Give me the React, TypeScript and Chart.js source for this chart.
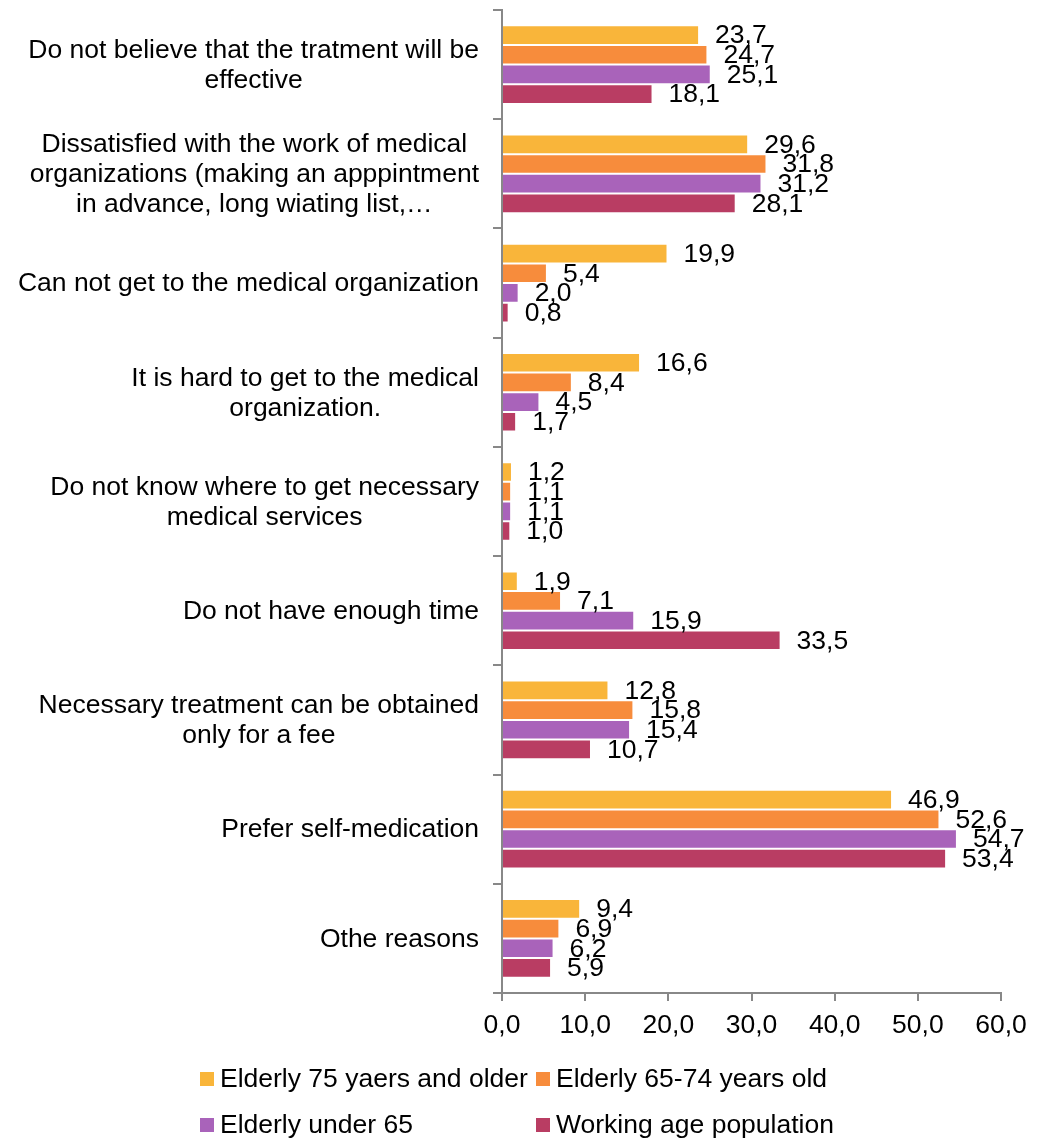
import React, { useEffect, useRef } from 'react';
import { Chart, registerables } from 'chart.js';

Chart.register(...registerables);

const categories: string[][] = [
  ['Do not believe that the tratment will be', 'effective'],
  ['Dissatisfied with the work of medical', 'organizations (making an apppintment', 'in advance, long wiating list,…'],
  ['Can not get to the medical organization'],
  ['It is hard to get to the medical', 'organization.'],
  ['Do not know where to get necessary', 'medical services'],
  ['Do not have enough time'],
  ['Necessary treatment can be obtained', 'only for a fee'],
  ['Prefer self-medication'],
  ['Othe reasons'],
];

const seriesNames = [
  'Elderly 75 yaers and older',
  'Elderly 65-74 years old',
  'Elderly under 65',
  'Working age population',
];

const elderly75plus = [23.7, 29.6, 19.9, 16.6, 1.2, 1.9, 12.8, 46.9, 9.4];
const elderly65to74 = [24.7, 31.8, 5.4, 8.4, 1.1, 7.1, 15.8, 52.6, 6.9];
const elderlyUnder65 = [25.1, 31.2, 2.0, 4.5, 1.1, 15.9, 15.4, 54.7, 6.2];
const workingAge = [18.1, 28.1, 0.8, 1.7, 1.0, 33.5, 10.7, 53.4, 5.9];

const seriesValues = [elderly75plus, elderly65to74, elderlyUnder65, workingAge];
const seriesColors = ['#F9B53A', '#F78C3C', '#A963BA', '#B93D63'];

const xTicks = { min: 0, max: 60, step: 10 };

const FONT = '"Liberation Sans", Arial, sans-serif';
const FONT_SIZE = 26.5;

const fmt = (v: number) => v.toFixed(1).replace('.', ',');

const customDraw = {
  id: 'customDraw',
  afterDatasetsDraw(chart: any) {
    const ctx = chart.ctx;
    ctx.save();
    ctx.font = `${FONT_SIZE}px ${FONT}`;
    ctx.fillStyle = '#000';
    ctx.textAlign = 'left';
    ctx.textBaseline = 'middle';
    chart.data.datasets.forEach((ds: any, i: number) => {
      const meta = chart.getDatasetMeta(i);
      meta.data.forEach((bar: any, j: number) => {
        ctx.fillText(fmt(ds.data[j]), bar.x + 16, bar.y + 1);
      });
    });
    ctx.restore();
  },
  afterDraw(chart: any) {
    const ctx = chart.ctx;
    const yScale = chart.scales.y;
    ctx.save();
    ctx.font = `${FONT_SIZE}px ${FONT}`;
    ctx.fillStyle = '#000';
    ctx.textBaseline = 'middle';
    ctx.textAlign = 'center';
    const lineH = 30;
    const rightEdge = yScale.right - 23;
    (chart.data.labels as string[][]).forEach((lines, idx) => {
      const cy = yScale.getPixelForValue(idx);
      const widths = lines.map((l) => ctx.measureText(l).width);
      const maxW = Math.max(...widths);
      const cx = rightEdge - maxW / 2;
      const top = cy - ((lines.length - 1) * lineH) / 2;
      lines.forEach((l, k) => {
        ctx.fillText(l, cx, top + k * lineH + 1);
      });
    });

    // legend (2 columns x 2 rows)
    const colX = [200, 536];
    const rowY = [1079, 1125];
    ctx.textAlign = 'left';
    chart.data.datasets.forEach((ds: any, i: number) => {
      const x = colX[i % 2];
      const y = rowY[Math.floor(i / 2)];
      ctx.fillStyle = ds.backgroundColor;
      ctx.fillRect(x, y - 7, 14, 14);
      ctx.fillStyle = '#000';
      ctx.fillText(ds.label, x + 20, y + 1);
    });
    ctx.restore();
  },
};

export default function App() {
  const ref = useRef<HTMLCanvasElement | null>(null);
  useEffect(() => {
    if (!ref.current) return;
    const chart = new Chart(ref.current, {
      type: 'bar',
      data: {
        labels: categories as any,
        datasets: seriesNames.map((name, i) => ({
          label: name,
          data: seriesValues[i],
          backgroundColor: seriesColors[i],
          borderColor: 'rgba(255,255,255,0.45)',
          borderWidth: 1,
          categoryPercentage: 0.72,
          barPercentage: 1.0,
        })),
      },
      options: {
        indexAxis: 'y',
        responsive: false,
        animation: false,
        devicePixelRatio: 1,
        layout: { padding: { top: 10, right: 38, left: 0, bottom: 0 } },
        plugins: {
          legend: { display: false },
          tooltip: { enabled: false },
        },
        scales: {
          x: {
            min: xTicks.min,
            max: xTicks.max,
            ticks: {
              stepSize: xTicks.step,
              color: '#000',
              font: { family: FONT, size: FONT_SIZE },
              padding: 9,
              callback: (v: any) => fmt(Number(v)),
            },
            grid: {
              drawOnChartArea: false,
              drawTicks: true,
              tickLength: 8,
              color: '#888888',
              lineWidth: 2,
            },
            border: { color: '#888888', width: 2 },
            afterFit: (s: any) => {
              s.height = 147;
            },
          },
          y: {
            ticks: { display: false },
            grid: {
              drawOnChartArea: false,
              drawTicks: true,
              tickLength: 9,
              color: '#888888',
              lineWidth: 2,
              offset: true,
            },
            border: { color: '#888888', width: 2 },
            afterFit: (s: any) => {
              s.width = 502;
            },
          },
        },
      },
      plugins: [customDraw],
    });
    return () => chart.destroy();
  }, []);
  return (
    <div style={{ position: 'absolute', left: 0, top: 0, width: 1039, height: 1140 }}>
      <canvas ref={ref} width={1039} height={1140} style={{ display: 'block' }} />
    </div>
  );
}
